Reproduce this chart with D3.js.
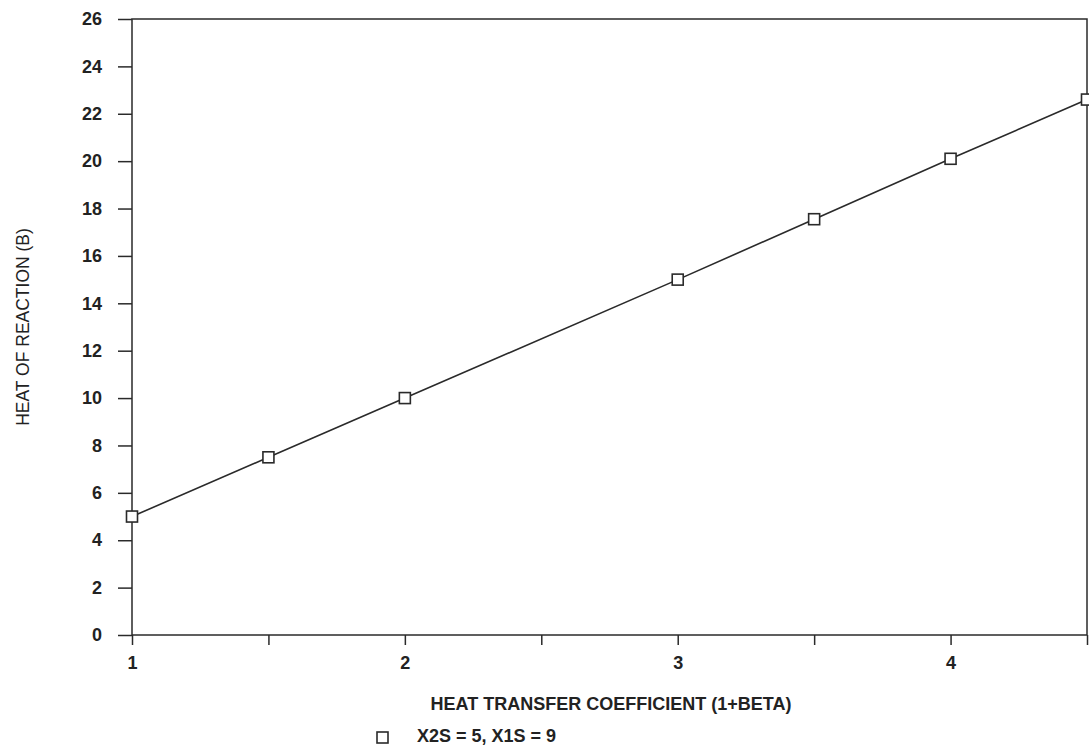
<!DOCTYPE html>
<html><head><meta charset="utf-8">
<script src="https://cdn.jsdelivr.net/npm/d3@7"></script>
<style>body{margin:0;background:#fff}svg{display:block}text{font-family:"Liberation Sans",Arial,sans-serif}</style>
</head><body>
<svg id="c" width="1089" height="750"></svg>
<script>
const xValues = [1, 1.5, 2, 3, 3.5, 4, 4.5];
const yValues = [5, 7.5, 10, 15, 17.55, 20.1, 22.6];
const xTicks = [1, 1.5, 2, 2.5, 3, 3.5, 4, 4.5];
const xTickLabels = ["1", "", "2", "", "3", "", "4", ""];
const yTicks = [0, 2, 4, 6, 8, 10, 12, 14, 16, 18, 20, 22, 24, 26];
const legendLabel = "X2S = 5, X1S = 9";
const xTitle = "HEAT TRANSFER COEFFICIENT (1+BETA)";
const yTitle = "HEAT OF REACTION (B)";

const svg = d3.select("#c");
const L = 132, R = 1087, T = 19, B = 635;
const x = d3.scaleLinear().domain([1, 4.5]).range([L, R]);
const y = d3.scaleLinear().domain([0, 26]).range([B, T]);
const col = "#2a2a2a";

// frame
svg.append("rect").attr("x", L).attr("y", T).attr("width", R - L).attr("height", B - T)
  .attr("fill", "none").attr("stroke", col).attr("stroke-width", 1.5);

const ya = svg.append("g").attr("transform", `translate(${L},0)`)
  .call(d3.axisLeft(y).tickValues(yTicks).tickSize(14).tickPadding(16).tickFormat(d3.format("d")));
const xa = svg.append("g").attr("transform", `translate(0,${B})`)
  .call(d3.axisBottom(x).tickValues(xTicks).tickSize(10).tickPadding(11).tickFormat((d, i) => xTickLabels[i]));
[ya, xa].forEach(g => {
  g.select(".domain").remove();
  g.selectAll("line").attr("stroke", col).attr("stroke-width", 1.5);
  g.selectAll("text").attr("fill", "#222").attr("font-size", 18).attr("font-weight", "bold");
});

const line = d3.line().x((d, i) => x(xValues[i])).y(d => y(d));
svg.append("path").datum(yValues).attr("d", line).attr("fill", "none")
  .attr("stroke", col).attr("stroke-width", 1.6);

svg.selectAll(".pt").data(yValues).enter().append("rect")
  .attr("x", (d, i) => x(xValues[i]) - 5.5).attr("y", d => y(d) - 5.5)
  .attr("width", 11).attr("height", 11).attr("fill", "#fff")
  .attr("stroke", col).attr("stroke-width", 1.6);

svg.append("text").attr("x", 611).attr("y", 710).attr("text-anchor", "middle")
  .attr("font-size", 18).attr("font-weight", "bold").attr("fill", "#222").text(xTitle);

svg.append("text").attr("transform", "translate(29,327) rotate(-90)").attr("text-anchor", "middle")
  .attr("font-size", 17.5).attr("fill", "#222").text(yTitle);

svg.append("rect").attr("x", 377).attr("y", 732).attr("width", 11).attr("height", 11)
  .attr("fill", "none").attr("stroke", col).attr("stroke-width", 1.6);
svg.append("text").attr("x", 417).attr("y", 742).attr("font-size", 18).attr("font-weight", "bold")
  .attr("fill", "#222").text(legendLabel);
</script>
</body></html>
